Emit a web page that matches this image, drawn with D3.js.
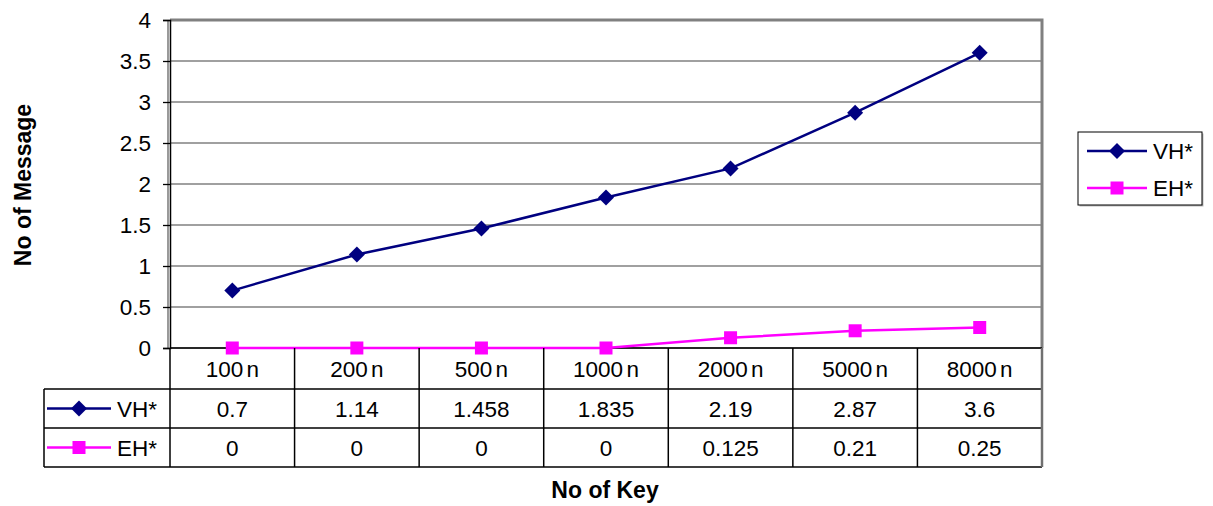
<!DOCTYPE html>
<html>
<head>
<meta charset="utf-8">
<script src="https://cdn.jsdelivr.net/npm/d3@7"></script>
<style>
body { margin: 0; background: #fff; }
svg { font-family: "Liberation Sans", Arial, sans-serif; }
</style>
</head>
<body>
<svg width="1213" height="506"></svg>
<script>
var categories = ["100 n", "200 n", "500 n", "1000 n", "2000 n", "5000 n", "8000 n"];
var vhValues = [0.7, 1.14, 1.458, 1.835, 2.19, 2.87, 3.6];
var ehValues = [0, 0, 0, 0, 0.125, 0.21, 0.25];
var seriesNames = ["VH*", "EH*"];
var yTicks = [0, 0.5, 1, 1.5, 2, 2.5, 3, 3.5, 4];

var colors = ["#000080", "#ff00ff"];
var series = [
	{ name: seriesNames[0], values: vhValues, color: colors[0], shape: "diamond" },
	{ name: seriesNames[1], values: ehValues, color: colors[1], shape: "square" }
];

var fs = 22.5;

var margin = { top: 20, left: 170, right: 171, bottom: 158 },
	svgWidth = 1213, svgHeight = 506,
	width = svgWidth - margin.left - margin.right,
	height = svgHeight - margin.top - margin.bottom;

var svg = d3.select("svg");
var g = svg.append("g").attr("transform", "translate(" + margin.left + "," + margin.top + ")");

var xScale = d3.scaleBand().domain(categories).range([0, width]).padding(0);
var yScale = d3.scaleLinear().domain([0, 4]).range([height, 0]);

// gridlines
g.append("g")
	.selectAll("line")
	.data(yTicks)
	.enter().append("line")
		.attr("x1", 0).attr("x2", width)
		.attr("y1", function(d) { return yScale(d); })
		.attr("y2", function(d) { return yScale(d); })
		.attr("stroke", "#808080")
		.attr("stroke-width", 1.3);

// plot border (top/right)
g.append("path")
	.attr("d", "M0,0H" + width + "V" + height)
	.attr("fill", "none")
	.attr("stroke", "#808080")
	.attr("stroke-width", 3);
g.append("line")
	.attr("x1", -2).attr("x2", -2).attr("y1", 0).attr("y2", height)
	.attr("stroke", "#9a9a9a").attr("stroke-width", 2);

// y axis
var yAxis = d3.axisLeft(yScale)
	.tickValues(yTicks)
	.tickFormat(function(d) { return String(d); })
	.tickSize(7)
	.tickPadding(12);
var ya = g.append("g").call(yAxis);
ya.select(".domain").attr("stroke", "#000").attr("stroke-width", 1.5);
ya.selectAll(".tick line").attr("stroke", "#000").attr("stroke-width", 1.3);
ya.selectAll(".tick text").attr("font-size", fs).attr("fill", "#000").attr("font-family", "Liberation Sans, Arial, sans-serif");

// x baseline
g.append("line")
	.attr("x1", 0).attr("x2", width).attr("y1", height).attr("y2", height)
	.attr("stroke", "#000").attr("stroke-width", 1.5);

var line = d3.line()
	.x(function(d, i) { return xScale(categories[i]) + xScale.bandwidth() / 2; })
	.y(function(d) { return yScale(d); });

function marker(sel, shape, color) {
	if (shape === "diamond") {
		sel.append("path").attr("d", "M0,-8L8,0L0,8L-8,0Z").attr("fill", color);
	} else {
		sel.append("rect").attr("x", -6.5).attr("y", -6.5).attr("width", 13).attr("height", 13).attr("fill", color);
	}
}

series.forEach(function(s) {
	g.append("path")
		.datum(s.values)
		.attr("fill", "none")
		.attr("stroke", s.color)
		.attr("stroke-width", 2.5)
		.attr("d", line);
	s.values.forEach(function(v, i) {
		var m = g.append("g")
			.attr("transform", "translate(" + (xScale(categories[i]) + xScale.bandwidth() / 2) + "," + yScale(v) + ")");
		marker(m, s.shape, s.color);
	});
});

// data table
var rowH = [height, height + 41, height + 80, height + 119];
var tableLeft = 44 - margin.left;
var tg = g.append("g");
[1, 2, 3].forEach(function(r) {
	tg.append("line").attr("x1", tableLeft).attr("x2", width).attr("y1", rowH[r]).attr("y2", rowH[r])
		.attr("stroke", "#000").attr("stroke-width", 1.5);
});
tg.append("line").attr("x1", tableLeft).attr("x2", tableLeft).attr("y1", rowH[1]).attr("y2", rowH[3]).attr("stroke", "#000").attr("stroke-width", 1.5);
tg.selectAll(".vl")
	.data(categories.concat(["end"]))
	.enter().append("line")
		.attr("x1", function(d, i) { return i * xScale.bandwidth(); })
		.attr("x2", function(d, i) { return i * xScale.bandwidth(); })
		.attr("y1", height).attr("y2", rowH[3])
		.attr("stroke", function(d, i) { return i === categories.length ? "#707070" : "#000"; })
		.attr("stroke-width", function(d, i) { return i === categories.length ? 2.5 : 1.5; });

tg.selectAll(".cat")
	.data(categories)
	.enter().append("text")
		.attr("x", function(d) { return xScale(d) + xScale.bandwidth() / 2; })
		.attr("y", (rowH[0] + rowH[1]) / 2 + 8)
		.attr("text-anchor", "middle")
		.attr("font-size", fs)
		.attr("word-spacing", -3)
		.text(function(d) { return d; });

series.forEach(function(s, si) {
	var cy = (rowH[si + 1] + rowH[si + 2]) / 2;
	tg.selectAll(".val" + si)
		.data(s.values)
		.enter().append("text")
			.attr("x", function(d, i) { return xScale(categories[i]) + xScale.bandwidth() / 2; })
			.attr("y", cy + 8)
			.attr("text-anchor", "middle")
			.attr("font-size", fs)
			.text(function(d) { return String(d); });
	var k = tg.append("g").attr("transform", "translate(" + (tableLeft + 3) + "," + cy + ")");
	k.append("line").attr("x1", 0).attr("x2", 64).attr("stroke", s.color).attr("stroke-width", 2.5);
	marker(k.append("g").attr("transform", "translate(32,0)"), s.shape, s.color);
	k.append("text").attr("x", 70).attr("y", 8).attr("font-size", fs).text(s.name);
});

// legend
var lg = svg.append("g").attr("transform", "translate(1078,132)");
lg.append("rect").attr("x", 1.5).attr("y", 1.5).attr("width", 124).attr("height", 73).attr("fill", "#bbb");
lg.append("rect").attr("width", 124).attr("height", 73).attr("fill", "#fff").attr("stroke", "#000").attr("stroke-width", 1);
series.forEach(function(s, i) {
	var ly = 19 + i * 37;
	var e = lg.append("g").attr("transform", "translate(9," + ly + ")");
	e.append("line").attr("x1", 0).attr("x2", 60).attr("stroke", s.color).attr("stroke-width", 2.5);
	marker(e.append("g").attr("transform", "translate(30,0)"), s.shape, s.color);
	e.append("text").attr("x", 66).attr("y", 8).attr("font-size", fs).text(s.name);
});

// axis titles
svg.append("text")
	.attr("x", 605).attr("y", 498)
	.attr("text-anchor", "middle")
	.attr("font-size", 23).attr("font-weight", "bold")
	.text("No of Key");
svg.append("text")
	.attr("transform", "translate(31,185) rotate(-90)")
	.attr("text-anchor", "middle")
	.attr("font-size", 23).attr("font-weight", "bold")
	.text("No of Message");
</script>
</body>
</html>
